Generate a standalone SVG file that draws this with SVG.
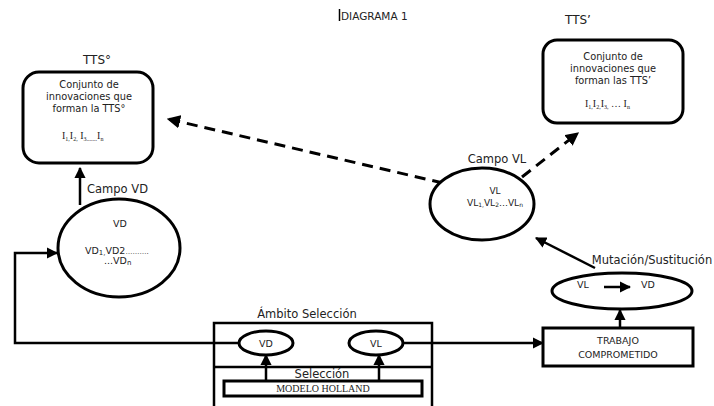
<svg xmlns="http://www.w3.org/2000/svg" width="714" height="406" viewBox="0 0 714 406">
<defs>
<style>
.s{font-family:"DejaVu Sans","Verdana",sans-serif;fill:#222}
.r{font-family:"Liberation Serif","Times New Roman",serif;fill:#222}
.ln{stroke:#000;stroke-width:2.5;fill:none}
.sh{stroke:#000;stroke-width:3;fill:#fff}
.d{stroke:#000;stroke-width:3;fill:none;stroke-dasharray:11 7}
</style>
<marker id="ah" viewBox="0 0 10 10" refX="9" refY="5" markerWidth="4.5" markerHeight="4.5" orient="auto" markerUnits="strokeWidth">
<path d="M0,0 L10,5 L0,10 z" fill="#000"/>
</marker>
</defs>
<rect width="714" height="406" fill="#fff"/>

<g id="title">
<line x1="339.5" y1="9" x2="339.5" y2="21" stroke="#000" stroke-width="1.5"/>
<text class="s" x="341" y="20" font-size="10.5">DIAGRAMA 1</text>
</g>

<g id="connectors">
<line class="d" x1="443" y1="183" x2="168" y2="119" marker-end="url(#ah)"/>
<line class="d" x1="522" y1="177" x2="578" y2="133" marker-end="url(#ah)"/>
<line class="ln" x1="80" y1="205" x2="80" y2="168" marker-end="url(#ah)"/>
<polyline class="ln" points="239,343 15,343 15,253 57,253" marker-end="url(#ah)"/>
<line class="ln" x1="403" y1="343" x2="543" y2="343" marker-end="url(#ah)"/>
<line class="ln" x1="595" y1="268" x2="536" y2="238" marker-end="url(#ah)"/>
<line class="ln" x1="620" y1="328" x2="620" y2="310" marker-end="url(#ah)"/>
<line class="ln" x1="266" y1="380" x2="266" y2="355" marker-end="url(#ah)"/>
<line class="ln" x1="379" y1="380" x2="379" y2="355" marker-end="url(#ah)"/>
</g>

<g id="tts0">
<text class="s" x="97" y="64" font-size="12" text-anchor="middle">TTS°</text>
<rect class="sh" x="23" y="72" width="130" height="91" rx="16"/>
<text class="s" x="89" y="88" font-size="9.8" text-anchor="middle">Conjunto de</text>
<text class="s" x="89" y="100" font-size="9.8" text-anchor="middle">innovaciones que</text>
<text class="s" x="89" y="112" font-size="9.8" text-anchor="middle">forman la TTS°</text>
<text class="r" x="62" y="139" font-size="10">I<tspan font-size="6" dy="2">1,</tspan><tspan dy="-2">I</tspan><tspan font-size="6" dy="2">2,</tspan><tspan dy="-2"> I</tspan><tspan font-size="6" dy="2">3.......</tspan><tspan dy="-2">I</tspan><tspan font-size="6" dy="2">n</tspan></text>
</g>

<g id="ttsp">
<text class="s" x="578" y="24" font-size="12" text-anchor="middle">TTS’</text>
<rect class="sh" x="543" y="40" width="140" height="83" rx="14"/>
<text class="s" x="613" y="60" font-size="9.8" text-anchor="middle">Conjunto de</text>
<text class="s" x="613" y="72" font-size="9.8" text-anchor="middle">innovaciones que</text>
<text class="s" x="613" y="84" font-size="9.8" text-anchor="middle">forman las TTS’</text>
<text class="r" x="585" y="107" font-size="10">I<tspan font-size="6" dy="2">1,</tspan><tspan dy="-2">I</tspan><tspan font-size="6" dy="2">2,</tspan><tspan dy="-2">I</tspan><tspan font-size="6" dy="2">3,</tspan><tspan dy="-2"> … I</tspan><tspan font-size="6" dy="2">n</tspan></text>
</g>

<g id="campoVD">
<text class="s" x="87" y="193" font-size="11.5">Campo VD</text>
<ellipse class="sh" cx="119" cy="248" rx="61" ry="49"/>
<text class="s" x="120" y="227" font-size="9.5" text-anchor="middle">VD</text>
<text class="s" x="85" y="254" font-size="9.5">VD<tspan font-size="7" dy="1">1,</tspan><tspan dy="-1">VD2</tspan><tspan font-size="7">……….</tspan></text>
<text class="s" x="104" y="264" font-size="9.5">...VD<tspan font-size="7" dy="1">n</tspan></text>
</g>

<g id="campoVL">
<text class="s" x="497" y="163" font-size="11.5" text-anchor="middle">Campo VL</text>
<ellipse class="sh" cx="482" cy="204" rx="52" ry="36"/>
<text class="s" x="495" y="194" font-size="9" text-anchor="middle">VL</text>
<text class="s" x="495" y="206" font-size="9" text-anchor="middle">VL<tspan font-size="6" dy="1">1,</tspan><tspan dy="-1">VL</tspan><tspan font-size="6" dy="1">2</tspan><tspan dy="-1">…VL</tspan><tspan font-size="6" dy="1">n</tspan></text>
</g>

<g id="mutacion">
<text class="s" x="652" y="264" font-size="11.5" text-anchor="middle">Mutación/Sustitución</text>
<ellipse class="sh" cx="622" cy="291" rx="70" ry="18"/>
<text class="s" x="583" y="288" font-size="9.5" text-anchor="middle">VL</text>
<line x1="604" y1="287" x2="630" y2="287" stroke="#000" stroke-width="2.5" marker-end="url(#ah)"/>
<text class="s" x="648" y="288" font-size="9.5" text-anchor="middle">VD</text>
</g>

<g id="trabajo">
<rect class="sh" x="543" y="328" width="150" height="38"/>
<text class="s" x="618" y="344" font-size="9.5" text-anchor="middle">TRABAJO</text>
<text class="s" x="618" y="358" font-size="9.5" text-anchor="middle">COMPROMETIDO</text>
</g>

<g id="ambito">
<text class="s" x="307" y="318" font-size="11.5" text-anchor="middle">Ámbito Selección</text>
<polyline class="ln" points="214,406 214,323 432,323 432,406"/>
<line class="ln" x1="214" y1="367" x2="432" y2="367"/>
</g>

<g id="vdSel">
<ellipse class="sh" cx="266" cy="343" rx="27" ry="12"/>
<text class="s" x="266" y="347" font-size="9.5" text-anchor="middle">VD</text>
</g>

<g id="vlSel">
<ellipse class="sh" cx="376" cy="343" rx="27" ry="12"/>
<text class="s" x="376" y="347" font-size="9.5" text-anchor="middle">VL</text>
</g>

<g id="seleccion">
<text class="s" x="322" y="378" font-size="11.5" text-anchor="middle">Selección</text>
</g>

<g id="holland">
<rect class="sh" x="224" y="381" width="198" height="15"/>
<text class="r" x="323" y="392" font-size="10" text-anchor="middle">MODELO HOLLAND</text>
</g>
</svg>
